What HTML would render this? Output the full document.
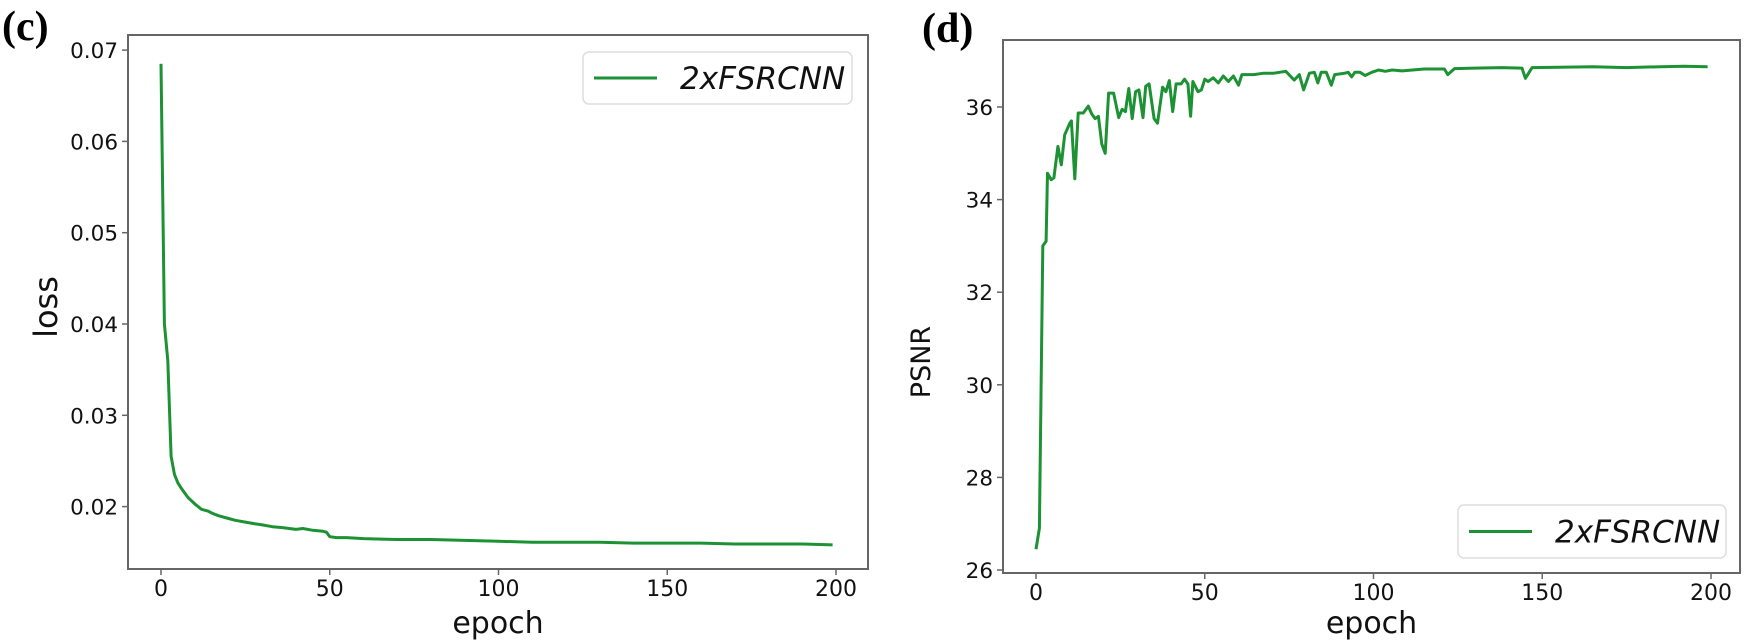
<!DOCTYPE html>
<html><head><meta charset="utf-8">
<style>
html,body{margin:0;padding:0;background:#fff;}
svg{display:block;font-family:"DejaVu Sans","Liberation Sans",sans-serif;}
</style></head>
<body>
<svg id="fig" width="1746" height="644" viewBox="0 0 1746 644" xmlns="http://www.w3.org/2000/svg">
<text x="2" y="40" font-family="Liberation Serif, serif" font-weight="bold" font-size="42" fill="#000">(c)</text>
<text x="922" y="42" font-family="Liberation Serif, serif" font-weight="bold" font-size="42" fill="#000">(d)</text>
<g id="left"></g>
<g id="right"></g>
</svg>
<script>
const lossEpochs=[0,1,2,3,4,5,6,7,8,10,12,14,15,17,20,22,25,28,30,33,36,40,42,45,48,49,50,52,55,60,70,80,90,100,110,120,130,140,150,160,170,180,190,199];
const lossValues=[0.0685,0.040,0.036,0.0255,0.0235,0.0226,0.022,0.0215,0.021,0.0203,0.0197,0.0195,0.0193,0.019,0.0187,0.0185,0.0183,0.0181,0.0180,0.0178,0.0177,0.0175,0.0176,0.0174,0.0173,0.0172,0.0167,0.0166,0.0166,0.0165,0.0164,0.0164,0.0163,0.0162,0.0161,0.0161,0.0161,0.0160,0.0160,0.0160,0.0159,0.0159,0.0159,0.0158];
const lossTicks=[0.02,0.03,0.04,0.05,0.06,0.07];
const lossTickLabels=["0.02","0.03","0.04","0.05","0.06","0.07"];
const psnrEpochs=[0,1,2,3,3.4,4.5,5.3,6.5,7.5,8.5,10,10.5,11.5,12.5,14,15.5,16.5,17.5,18.5,19.5,20.5,21.5,23,24.5,25.5,26.5,27.5,28.5,29.5,30.5,31.7,32.5,33.5,35,36,37.5,38.5,39.5,40.5,41.5,43,44,45,45.8,46.5,48,49,50,51,52.5,54,55.5,57,58.5,60,61,64.5,67.5,70.5,74,76.5,78,79.3,81,82.5,83.5,84.5,86,87.5,88.5,91.5,92.5,93.5,94.5,96,97.5,99.5,101.5,103.5,105.5,108.5,115,121,122,124,130,138,144,145,147,155,165,175,185,192,199];
const psnrValues=[26.45,26.9,33.0,33.1,34.57,34.43,34.47,35.15,34.75,35.4,35.65,35.7,34.45,35.87,35.87,36.02,35.85,35.75,35.8,35.2,35.0,36.3,36.3,35.77,35.95,35.9,36.4,35.75,36.33,36.37,35.77,36.45,36.5,35.75,35.65,36.43,36.33,36.57,35.9,36.5,36.5,36.6,36.5,35.8,36.55,36.33,36.37,36.6,36.55,36.63,36.52,36.67,36.55,36.67,36.47,36.7,36.7,36.73,36.73,36.77,36.58,36.7,36.37,36.73,36.75,36.52,36.75,36.75,36.47,36.7,36.73,36.75,36.65,36.75,36.75,36.68,36.75,36.8,36.77,36.8,36.78,36.82,36.82,36.7,36.83,36.84,36.85,36.84,36.62,36.85,36.86,36.87,36.85,36.87,36.88,36.87];
const psnrTicks=[26,28,30,32,34,36];
const psnrTickLabels=["26","28","30","32","34","36"];
const xTicks=[0,50,100,150,200];
const xTickLabels=["0","50","100","150","200"];
const NS="http://www.w3.org/2000/svg";
function mk(p,tag,attrs){const e=document.createElementNS(NS,tag);for(const k in attrs)e.setAttribute(k,attrs[k]);p.appendChild(e);return e;}
function draw(g,cfg){
  const X=v=>cfg.x0+v*cfg.xs, Y=v=>cfg.yRef-(v-cfg.vRef)*cfg.ys;
  const frame=mk(g,'rect',{x:cfg.L,y:cfg.T,width:cfg.R-cfg.L,height:cfg.B-cfg.T,fill:'none',stroke:'#666','stroke-width':2});
  
  
  cfg.yt.forEach((v,i)=>{
    const t=mk(g,'line',{x1:cfg.L-6,x2:cfg.L,y1:Y(v),y2:Y(v),stroke:'#666','stroke-width':1.5});
    
    
    const l=mk(g,'text',{x:cfg.L-10,y:Y(v)+8,'text-anchor':'end','font-size':21.5,fill:'#111'});
    l.textContent=cfg.ytl[i];
    
    
  });
  xTicks.forEach((v,i)=>{
    const t=mk(g,'line',{x1:X(v),x2:X(v),y1:cfg.B,y2:cfg.B+6,stroke:'#666','stroke-width':1.5});
    
    
    const l=mk(g,'text',{x:X(v),y:cfg.B+27,'text-anchor':'middle','font-size':22,fill:'#111'});
    l.textContent=xTickLabels[i];
    
    
  });
  const pts=cfg.ex.map((e,i)=>X(e).toFixed(1)+','+Y(cfg.vals[i]).toFixed(1)).join(' ');
  const line=mk(g,'polyline',{points:pts,fill:'none',stroke:'#1d9234','stroke-width':3,'stroke-linejoin':'round'});
  
  
  const xl=mk(g,'text',{x:(cfg.L+cfg.R)/2,y:633,'text-anchor':'middle','font-size':30,fill:'#111'});
  xl.textContent='epoch';
  
  
  const yl=mk(g,'text',{x:0,y:0,'text-anchor':'middle','font-size':cfg.ylfs,fill:'#111',transform:`translate(${cfg.ylx},${cfg.yly}) rotate(-90)`});
  yl.textContent=cfg.ylabel;
  
  
  const lg=mk(g,'g',{});
  
  
  const b=cfg.leg;
  mk(lg,'rect',{x:b[0],y:b[1],width:b[2],height:b[3],rx:6,fill:'#fff',stroke:'#ddd','stroke-width':1.5});
  mk(lg,'line',{x1:b[0]+11,x2:b[0]+74,y1:b[1]+b[3]/2,y2:b[1]+b[3]/2,stroke:'#1d9234','stroke-width':3});
  const lt=mk(lg,'text',{x:b[0]+97,y:b[1]+b[3]/2+11,'font-size':31,'font-style':'italic',fill:'#111'});
  lt.textContent='2xFSRCNN';
  
  
}
draw(document.getElementById('left'),{L:128,R:868,T:35,B:569,x0:161,xs:3.375,yRef:324,vRef:0.04,ys:9130,
  yt:lossTicks,ytl:lossTickLabels,ex:lossEpochs,vals:lossValues,ylabel:'loss',ylfs:32,ylx:57,yly:307,leg:[583,52,269,52]});
draw(document.getElementById('right'),{L:1003,R:1740,T:40,B:573,x0:1036,xs:3.375,yRef:570,vRef:26,ys:46.3,
  yt:psnrTicks,ytl:psnrTickLabels,ex:psnrEpochs,vals:psnrValues,ylabel:'PSNR',ylfs:27,ylx:930,yly:362,leg:[1458,505,268,53]});
</script>
</body></html>
